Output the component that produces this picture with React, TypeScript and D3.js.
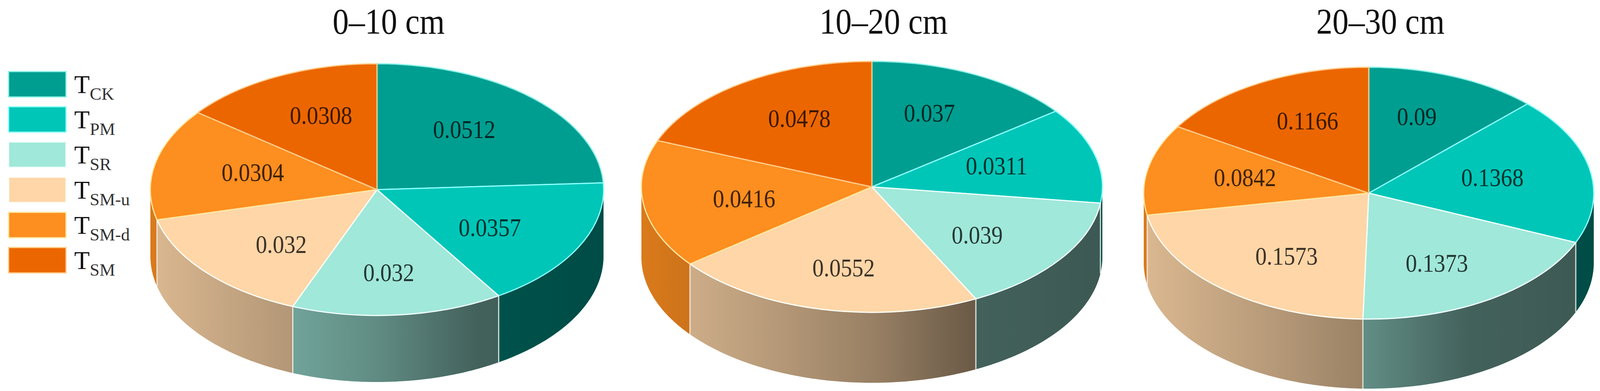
import React, { useEffect, useRef } from 'react';
import * as d3 from 'd3';

// treatment categories and colours (clockwise from 12 o'clock)
const categories = ['CK', 'PM', 'SR', 'SM-u', 'SM-d', 'SM'];
const colors = ['#009E90', '#00C6B7', '#A0E8DA', '#FED6A8', '#FD8E20', '#EC6600'];

// soil layers
const depthTitles = ['0–10 cm', '10–20 cm', '20–30 cm'];
const values0to10 = [0.0512, 0.0357, 0.032, 0.032, 0.0304, 0.0308];
const values10to20 = [0.037, 0.0311, 0.039, 0.0552, 0.0416, 0.0478];
const values20to30 = [0.09, 0.1368, 0.1373, 0.1573, 0.0842, 0.1166];
const series = [values0to10, values10to20, values20to30];

// pie placement on the 4106 x 1000 canvas
const pieLayout = [
  { cx: 965, cy: 485, rx: 580, ry: 322, depth: 170 },
  { cx: 2232, cy: 478, rx: 590, ry: 321, depth: 180 },
  { cx: 3504, cy: 494, rx: 576, ry: 322, depth: 178 },
];

const WIDTH = 4106;
const HEIGHT = 1000;
const FONT = '"Liberation Serif", "Times New Roman", serif';
const SQUEEZE = 0.88; // text in the source is slightly narrowed

// side lighting: black overlay opacity across the pie width
const shadeStops: [number, number][] = [[0, 0.14], [0.3, 0.29], [0.5, 0.4], [0.72, 0.58], [1, 0.62]];

const strokeFor = (c: string) => d3.interpolateRgb(d3.color(c)!.brighter(1).formatHex(), '#ffffff')(0.55);
const textFor = (c: string) => d3.color(c)!.darker(4).formatHex();

const App: React.FC = () => {
  const svgRef = useRef<SVGSVGElement>(null);

  useEffect(() => {
    const svg = d3.select(svgRef.current);
    svg.selectAll('*').remove();
    const defs = svg.append('defs');

    const pie = d3.pie<number>().sort(null).value(d => d);
    const arc = d3.arc<d3.PieArcDatum<number>>().innerRadius(0).outerRadius(1);
    const line = d3.line<[number, number]>();

    series.forEach((vals, i) => {
      const L = pieLayout[i];
      const px = (a: number) => L.cx + L.rx * Math.sin(a);
      const py = (a: number) => L.cy - L.ry * Math.cos(a);

      const grad = defs.append('linearGradient')
        .attr('id', `shade${i}`)
        .attr('gradientUnits', 'userSpaceOnUse')
        .attr('x1', L.cx - L.rx).attr('x2', L.cx + L.rx)
        .attr('y1', 0).attr('y2', 0);
      shadeStops.forEach(([o, a]) => {
        grad.append('stop').attr('offset', o).attr('stop-color', '#000').attr('stop-opacity', a);
      });

      const g = svg.append('g');
      const arcs = pie(vals);

      // front side walls
      arcs.forEach((d, j) => {
        const a0 = Math.max(d.startAngle, Math.PI / 2);
        const a1 = Math.min(d.endAngle, Math.PI * 1.5);
        if (a1 <= a0) return;
        const steps = d3.range(65).map(k => a0 + (a1 - a0) * k / 64);
        const pts: [number, number][] = [
          ...steps.map(a => [px(a), py(a)] as [number, number]),
          ...steps.slice().reverse().map(a => [px(a), py(a) + L.depth] as [number, number]),
        ];
        const dPath = line(pts) + 'Z';
        g.append('path').attr('d', dPath).attr('fill', colors[j]);
        g.append('path').attr('d', dPath).attr('fill', `url(#shade${i})`);
      });

      // vertical seams between wall segments
      arcs.forEach(d => {
        const a = d.startAngle;
        if (a <= Math.PI / 2 || a >= Math.PI * 1.5) return;
        g.append('line')
          .attr('x1', px(a)).attr('y1', py(a))
          .attr('x2', px(a)).attr('y2', py(a) + L.depth)
          .attr('stroke', '#f4f1ec').attr('stroke-opacity', 0.85).attr('stroke-width', 3);
      });

      // top faces
      g.selectAll('path.top')
        .data(arcs)
        .join('path')
        .attr('class', 'top')
        .attr('d', arc)
        .attr('transform', `translate(${L.cx},${L.cy}) scale(${L.rx},${L.ry})`)
        .attr('fill', (_d, j) => colors[j])
        .attr('stroke', (_d, j) => strokeFor(colors[j]))
        .attr('stroke-width', 3)
        .attr('stroke-linejoin', 'round')
        .attr('vector-effect', 'non-scaling-stroke');

      // value labels
      arcs.forEach((d, j) => {
        const mid = (d.startAngle + d.endAngle) / 2;
        const lx = L.cx + L.rx * 0.56 * Math.sin(mid);
        const ly = L.cy - L.ry * 0.66 * Math.cos(mid);
        g.append('text')
          .attr('transform', `translate(${lx},${ly}) scale(${SQUEEZE},1)`)
          .attr('text-anchor', 'middle')
          .attr('dominant-baseline', 'central')
          .attr('font-family', FONT)
          .attr('font-size', 66)
          .attr('fill', textFor(colors[j]))
          .text(String(d.data));
      });

      // layer title
      g.append('text')
        .attr('transform', `translate(${L.cx + 30},86) scale(${SQUEEZE},1)`)
        .attr('text-anchor', 'middle')
        .attr('font-family', FONT)
        .attr('font-size', 94)
        .attr('fill', '#111')
        .text(depthTitles[i]);
    });

    // legend
    const legend = svg.append('g').attr('transform', 'translate(22,183)');
    categories.forEach((c, k) => {
      const row = legend.append('g').attr('transform', `translate(0,${k * 90})`);
      row.append('rect')
        .attr('width', 147).attr('height', 65)
        .attr('fill', colors[k])
        .attr('stroke', strokeFor(colors[k]))
        .attr('stroke-width', 3);
      const t = row.append('text')
        .attr('x', 168).attr('y', 55)
        .attr('font-family', FONT)
        .attr('font-size', 65)
        .attr('fill', '#111');
      t.append('tspan').text('T');
      t.append('tspan').attr('dy', 17).attr('font-size', 45).attr('fill', '#333').text(c);
    });
  }, []);

  return (
    <div style={{ position: 'absolute', left: 0, top: 0, width: WIDTH, height: HEIGHT, background: '#fff' }}>
      <svg ref={svgRef} width={WIDTH} height={HEIGHT} />
    </div>
  );
};

export default App;
